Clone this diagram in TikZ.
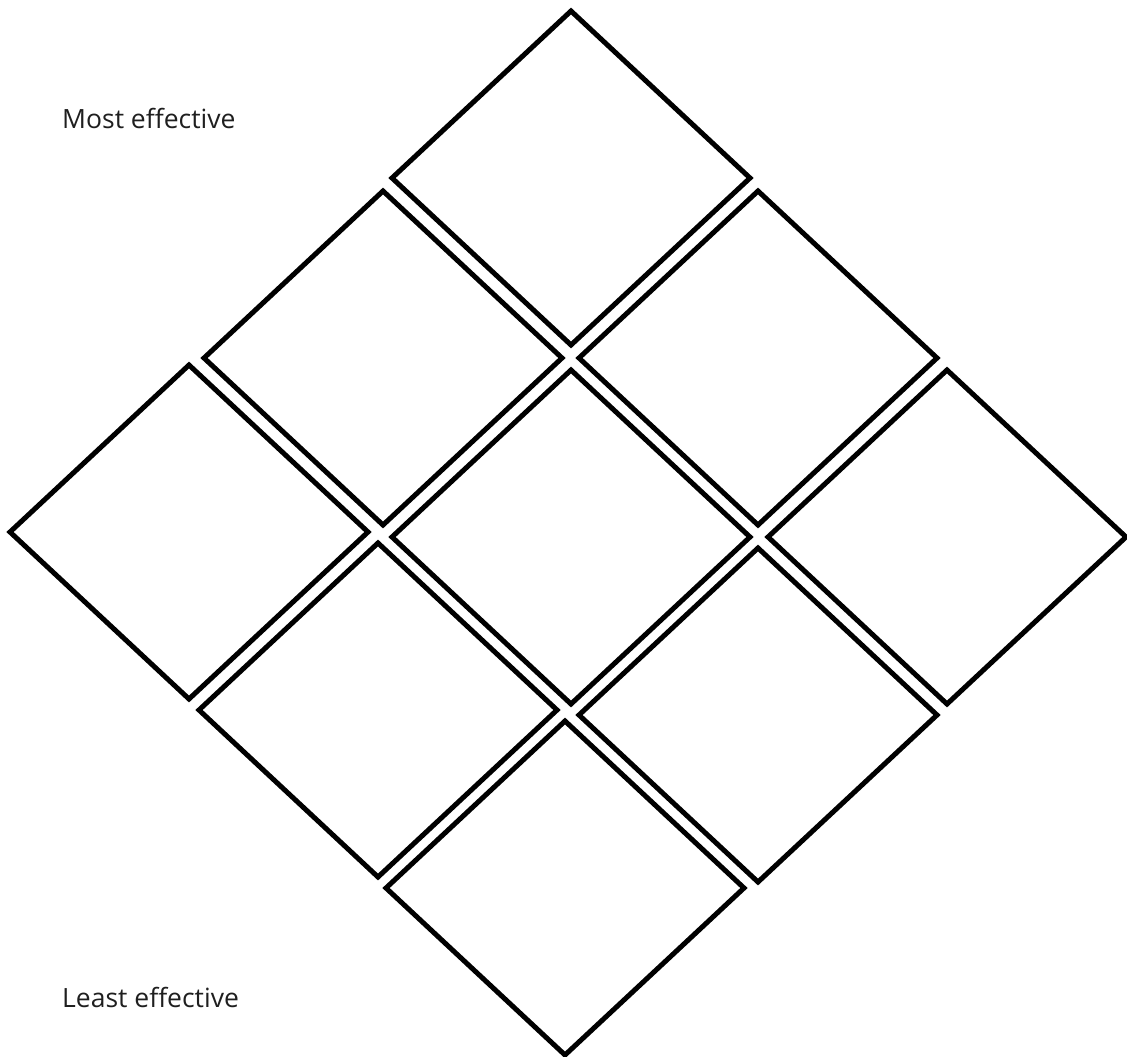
\documentclass[tikz,border=0pt]{standalone}
\usepackage{fontspec}
\setmainfont{Open Sans}
\usetikzlibrary{shapes.geometric}
\begin{document}
\begin{tikzpicture}[x=1pt,y=-1pt,
  cell/.style={draw=black, line width=5pt, shape=diamond, minimum width=358pt, minimum height=334pt, inner sep=0pt, outer sep=0pt},
  lbl/.style={anchor=base west, inner sep=0pt, font=\fontsize{26.5}{30}\selectfont, text=black!88}]
\useasboundingbox (0,0) rectangle (1127,1057);
\node[cell] (c1) at (571,178) {};
\node[cell] (c2) at (383,358) {};
\node[cell] (c3) at (758,358) {};
\node[cell] (c4) at (189,532) {};
\node[cell] (c5) at (571,537) {};
\node[cell] (c6) at (947,537) {};
\node[cell] (c7) at (378,710) {};
\node[cell] (c8) at (758,715) {};
\node[cell] (c9) at (565,888) {};
\node[lbl] (most) at (62,128) {Most effective};
\node[lbl] (least) at (62,1007) {Least effective};
\end{tikzpicture}
\end{document}
